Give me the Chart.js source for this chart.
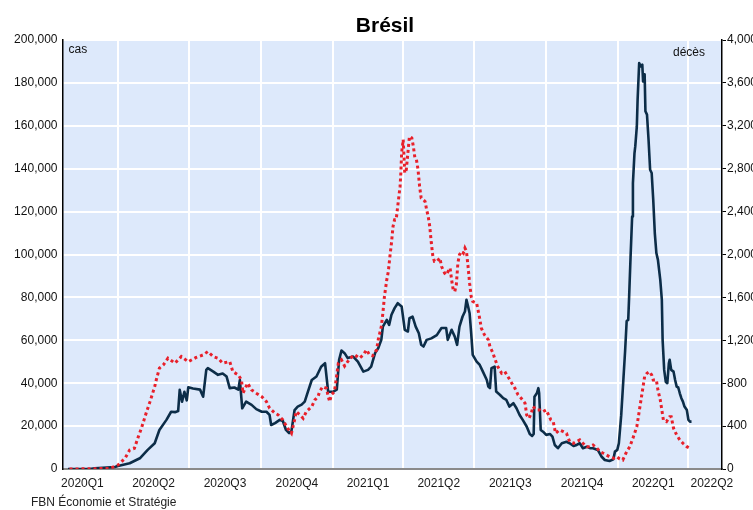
<!DOCTYPE html>
<html>
<head>
<meta charset="utf-8">
<script src="https://cdn.jsdelivr.net/npm/chart.js@4.4.1/dist/chart.umd.min.js"></script>
<style>
html,body{margin:0;padding:0;background:#ffffff;}
canvas{display:block;}
</style>
</head>
<body>
<canvas id="c" width="753" height="510"></canvas>
<script>
// ---------- text ----------
const chartTitle = 'Brésil';
const sourceText = 'FBN Économie et Stratégie';
const leftAxisTitle = 'cas';
const rightAxisTitle = 'décès';

// ---------- x axis (quarters) ----------
const quarterLabels = ['2020Q1','2020Q2','2020Q3','2020Q4','2021Q1','2021Q2','2021Q3','2021Q4','2022Q1','2022Q2'];
const quarterStarts = ['2020-01-01','2020-04-01','2020-07-01','2020-10-01','2021-01-01','2021-04-01','2021-07-01','2021-10-01','2022-01-01','2022-04-01','2022-07-01'];
const xStart = '2020-01-21';
const xEnd = '2022-05-14';

// ---------- y axes ----------
const casesMax = 200000, casesStep = 20000;
const deathsMax = 4000, deathsStep = 400;

// ---------- series: cas (7-day average of daily cases) ----------
const casesDates = [
'2020-01-28','2020-02-25','2020-03-02','2020-03-28','2020-04-01','2020-04-16','2020-04-29','2020-05-09','2020-05-18','2020-05-24',
'2020-06-02','2020-06-08','2020-06-13','2020-06-17','2020-06-19','2020-06-22','2020-06-25','2020-06-28','2020-06-30','2020-07-06',
'2020-07-15','2020-07-19','2020-07-23','2020-07-25','2020-08-01','2020-08-07','2020-08-13','2020-08-18','2020-08-22','2020-08-28',
'2020-09-02','2020-09-04','2020-09-07','2020-09-12','2020-09-19','2020-09-25','2020-10-02','2020-10-08','2020-10-12','2020-10-14',
'2020-10-19','2020-10-25','2020-10-29','2020-11-02','2020-11-06','2020-11-09','2020-11-13','2020-11-17','2020-11-22','2020-11-26',
'2020-11-30','2020-12-05','2020-12-11','2020-12-17','2020-12-22','2020-12-26','2021-01-01','2021-01-06','2021-01-09','2021-01-12',
'2021-01-16','2021-01-20','2021-01-27','2021-02-02','2021-02-09','2021-02-15','2021-02-19','2021-02-24','2021-02-28','2021-03-04',
'2021-03-06','2021-03-11','2021-03-14','2021-03-17','2021-03-21','2021-03-25','2021-03-30','2021-04-03','2021-04-07','2021-04-09',
'2021-04-13','2021-04-17','2021-04-21','2021-04-24','2021-04-27','2021-05-01','2021-05-07','2021-05-14','2021-05-20','2021-05-26',
'2021-05-28','2021-06-02','2021-06-06','2021-06-09','2021-06-12','2021-06-16','2021-06-19','2021-06-21','2021-06-23','2021-06-25',
'2021-06-27','2021-06-29','2021-07-04','2021-07-08','2021-07-12','2021-07-17','2021-07-19','2021-07-21','2021-07-23','2021-07-27',
'2021-07-29','2021-08-03','2021-08-07','2021-08-11','2021-08-15','2021-08-20','2021-08-24','2021-08-28','2021-09-01','2021-09-06',
'2021-09-10','2021-09-13','2021-09-15','2021-09-16','2021-09-19','2021-09-21','2021-09-22','2021-09-24','2021-09-27','2021-10-01',
'2021-10-06','2021-10-09','2021-10-12','2021-10-16','2021-10-21','2021-10-27','2021-10-31','2021-11-05','2021-11-09','2021-11-13',
'2021-11-17','2021-11-22','2021-11-26','2021-11-30','2021-12-06','2021-12-11','2021-12-15','2021-12-21','2021-12-26','2021-12-28',
'2021-12-31','2022-01-02','2022-01-05','2022-01-07','2022-01-10','2022-01-12','2022-01-14','2022-01-15','2022-01-17','2022-01-19',
'2022-01-20','2022-01-22','2022-01-23','2022-01-25','2022-01-26','2022-01-28','2022-01-30','2022-02-01','2022-02-02','2022-02-04',
'2022-02-05','2022-02-07','2022-02-09','2022-02-11','2022-02-13','2022-02-15','2022-02-17','2022-02-19','2022-02-21','2022-02-24',
'2022-02-26','2022-02-27','2022-03-01','2022-03-03','2022-03-05','2022-03-07','2022-03-08','2022-03-10','2022-03-13','2022-03-15',
'2022-03-17','2022-03-19','2022-03-21','2022-03-23','2022-03-25','2022-03-27','2022-03-30','2022-04-01','2022-04-03','2022-04-05'
];
const casesValues = [
0,0,300,900,1400,2700,5000,8900,12000,18200,
22900,26700,26500,27000,36900,31400,36000,32000,38100,37500,
37000,33700,46200,47000,45400,43900,44500,43100,37700,38000,
37000,41500,28300,31400,29900,27900,26700,26700,25200,20500,
21400,22900,22400,18200,16700,17800,27500,29100,30000,31400,
36000,41500,43100,47700,49300,36000,36000,37000,50900,55200,
54000,51700,52400,50100,45400,46200,47700,54000,56300,60200,
66400,69500,67200,71900,75000,77300,75800,64900,64100,70300,
71000,66400,63300,57900,57100,60200,60900,62400,65700,65700,
60200,64900,61700,57900,66400,71100,73400,78900,75800,72600,
63300,53200,50100,48500,45400,41500,38400,37700,47000,47700,
36100,34500,33000,32200,29100,30700,28300,25200,22900,19800,
16300,15400,16300,33700,35300,37700,35300,18200,17400,15900,
16300,15100,11200,9700,12000,12700,12000,10700,11200,12000,
9700,10400,9700,9700,8900,5700,4200,3700,4500,8100,
8900,12000,25000,37000,55000,69000,69500,78900,99100,117700,
133300,147300,150400,159700,172200,189300,187700,188500,180700,184000,
166800,165200,153500,139500,138000,125500,110000,100700,97500,88200,
78900,60200,46200,40700,40000,49300,50900,46200,45400,41500,
38400,38000,35300,33000,31400,29100,27500,22900,22100,22100
];

// ---------- series: décès (7-day average of daily deaths) ----------
const deathsDates = [
'2020-01-30','2020-03-21','2020-04-01','2020-04-10','2020-04-16','2020-04-22','2020-04-27','2020-05-01','2020-05-07','2020-05-12',
'2020-05-18','2020-05-20','2020-05-24','2020-05-29','2020-06-04','2020-06-13','2020-06-21','2020-06-30','2020-07-10','2020-07-19',
'2020-07-25','2020-08-01','2020-08-07','2020-08-13','2020-08-22','2020-08-26','2020-09-02','2020-09-06','2020-09-08','2020-09-14',
'2020-09-19','2020-09-25','2020-10-02','2020-10-08','2020-10-12','2020-10-19','2020-10-23','2020-10-29','2020-11-04','2020-11-09',
'2020-11-13','2020-11-15','2020-11-20','2020-11-24','2020-11-28','2020-12-05','2020-12-09','2020-12-13','2020-12-15','2020-12-19',
'2020-12-24','2020-12-26','2020-12-28','2020-12-30','2021-01-03','2021-01-06','2021-01-08','2021-01-12','2021-01-16','2021-01-23',
'2021-01-29','2021-02-04','2021-02-09','2021-02-13','2021-02-17','2021-02-21','2021-02-26','2021-02-28','2021-03-04','2021-03-06',
'2021-03-08','2021-03-11','2021-03-13','2021-03-15','2021-03-17','2021-03-19','2021-03-21','2021-03-23','2021-03-25','2021-03-28',
'2021-03-29','2021-03-30','2021-04-01','2021-04-03','2021-04-05','2021-04-07','2021-04-09','2021-04-12','2021-04-14','2021-04-16',
'2021-04-18','2021-04-20','2021-04-22','2021-04-24','2021-04-29','2021-05-01','2021-05-03','2021-05-05','2021-05-07','2021-05-09',
'2021-05-11','2021-05-14','2021-05-18','2021-05-20','2021-05-22','2021-05-24','2021-05-26','2021-05-31','2021-06-02','2021-06-04',
'2021-06-06','2021-06-08','2021-06-10','2021-06-12','2021-06-15','2021-06-17','2021-06-19','2021-06-21','2021-06-23','2021-06-25',
'2021-06-27','2021-06-29','2021-07-04','2021-07-08','2021-07-10','2021-07-14','2021-07-19','2021-07-21','2021-07-25','2021-07-27',
'2021-07-31','2021-08-05','2021-08-09','2021-08-13','2021-08-18','2021-08-22','2021-08-26','2021-08-30','2021-09-04','2021-09-06',
'2021-09-09','2021-09-12','2021-09-14','2021-09-19','2021-09-23','2021-09-27','2021-10-01','2021-10-04','2021-10-07','2021-10-10',
'2021-10-13','2021-10-18','2021-10-23','2021-10-27','2021-10-31','2021-11-05','2021-11-09','2021-11-13','2021-11-17','2021-11-22',
'2021-11-26','2021-11-30','2021-12-05','2021-12-09','2021-12-13','2021-12-17','2021-12-21','2021-12-26','2021-12-30','2022-01-03',
'2022-01-07','2022-01-12','2022-01-16','2022-01-20','2022-01-25','2022-01-29','2022-01-31','2022-02-02','2022-02-04','2022-02-07',
'2022-02-10','2022-02-13','2022-02-15','2022-02-19','2022-02-21','2022-02-24','2022-02-26','2022-02-28','2022-03-04','2022-03-08',
'2022-03-10','2022-03-13','2022-03-17','2022-03-21','2022-03-25','2022-03-30','2022-04-03'
];
const deathsValues = [
0,5,37,100,177,193,300,380,520,628,
768,830,940,970,1033,987,1048,1000,1040,1064,
1095,1048,1033,987,1002,908,877,830,707,800,
737,707,675,628,567,520,505,457,380,333,
457,535,504,473,535,582,644,675,722,768,
753,675,628,690,722,877,987,1018,960,1033,
1064,1033,1064,1111,1064,1055,1111,1204,1328,1453,
1608,1764,1842,1982,2107,2262,2324,2324,2449,2635,
2760,2947,3071,2760,2791,2947,3102,3087,3009,2900,
2884,2791,2635,2527,2495,2418,2355,2262,2107,1982,
1935,1935,1967,1889,1858,1827,1811,1873,1764,1671,
1655,1718,1920,1998,2029,2013,2060,2029,1889,1733,
1608,1562,1547,1400,1313,1251,1204,1142,1080,1033,
955,893,908,862,800,753,691,660,613,504,
473,520,582,551,551,535,551,504,457,442,
333,364,348,333,255,240,255,271,240,208,
208,224,193,162,147,131,115,100,115,95,
84,162,208,287,395,582,675,768,862,893,
908,877,830,830,737,644,551,457,442,488,
488,380,317,271,240,208,193
];

// ---------- build ----------
const FONT = "'Liberation Sans', Arial, Helvetica, sans-serif";
const DAY = 86400000;
const ORIGIN = Date.parse('2020-01-01');
const toDay = s => (Date.parse(s) - ORIGIN) / DAY;
const xMin = toDay(xStart), xMax = toDay(xEnd);

const boundaryValues = quarterStarts.map(toDay).filter(v => v > xMin && v < xMax);
const boundarySet = new Set(boundaryValues);
const labelAt = new Map();
for (let i = 0; i < quarterLabels.length; i++) {
  let mid = (toDay(quarterStarts[i]) + toDay(quarterStarts[i + 1])) / 2;
  mid = Math.min(mid, xMax - 13); // keep last label inside the frame
  labelAt.set(mid, quarterLabels[i]);
}
const xTickValues = [...boundaryValues, ...labelAt.keys()].sort((a, b) => a - b);

const casesData = casesDates.map((d, i) => ({ x: toDay(d), y: casesValues[i] }));
const deathsData = deathsDates.map((d, i) => ({ x: toDay(d), y: deathsValues[i] }));
const fmt = v => Number(v).toLocaleString('en-US');

const decor = {
  id: 'decor',
  beforeDraw(chart) {
    const { ctx, chartArea: a } = chart;
    ctx.save();
    ctx.fillStyle = '#dde9fb';
    ctx.fillRect(a.left, a.top, a.right - a.left, a.bottom - a.top);
    ctx.restore();
  },
  afterDraw(chart) {
    const { ctx, chartArea: a } = chart;
    ctx.save();
    ctx.fillStyle = '#000';
    ctx.textBaseline = 'alphabetic';
    ctx.font = "bold 21px " + FONT;
    ctx.textAlign = 'center';
    ctx.fillText(chartTitle, 385, 32);
    ctx.font = "12px " + FONT;
    ctx.fillStyle = '#111';
    ctx.textAlign = 'left';
    ctx.fillText(leftAxisTitle, a.left + 6, a.top + 13);
    ctx.textAlign = 'right';
    ctx.fillText(rightAxisTitle, a.right - 17, a.top + 16);
    ctx.textAlign = 'left';
    ctx.fillStyle = '#222';
    ctx.fillText(sourceText, 31, 506);
    ctx.restore();
  }
};

new Chart(document.getElementById('c'), {
  type: 'line',
  data: {
    datasets: [
      {
        label: 'décès',
        data: deathsData,
        yAxisID: 'y2',
        borderColor: '#e8202a',
        borderWidth: 3,
        borderDash: [3, 3],
        borderCapStyle: 'butt',
        pointRadius: 0,
        tension: 0,
        fill: false
      },
      {
        label: 'cas',
        data: casesData,
        yAxisID: 'y',
        borderColor: '#0c2d48',
        borderWidth: 2.6,
        borderJoinStyle: 'round',
        pointRadius: 0,
        tension: 0,
        fill: false
      }
    ]
  },
  options: {
    responsive: false,
    animation: false,
    devicePixelRatio: 1,
    layout: { padding: { top: 40, left: 0, right: 0, bottom: 0 } },
    plugins: { legend: { display: false }, title: { display: false }, tooltip: { enabled: false } },
    scales: {
      x: {
        type: 'linear',
        min: xMin,
        max: xMax,
        afterBuildTicks(scale) { scale.ticks = xTickValues.map(v => ({ value: v })); },
        afterFit(scale) { scale.height = 41; },
        ticks: {
          autoSkip: false, maxRotation: 0, minRotation: 0, padding: 7,
          color: '#1a1a1a', font: { family: FONT, size: 12 },
          callback: v => labelAt.has(v) ? labelAt.get(v) : ''
        },
        grid: {
          drawTicks: false, lineWidth: 2,
          color: ctx => (ctx.tick && boundarySet.has(ctx.tick.value)) ? '#ffffff' : 'rgba(0,0,0,0)'
        },
        border: { display: true, color: '#8a8a8a', width: 2 }
      },
      y: {
        position: 'left',
        min: 0, max: casesMax,
        afterFit(scale) { scale.width = 62.5; },
        ticks: { stepSize: casesStep, padding: 5, color: '#111', font: { family: FONT, size: 12 }, callback: fmt },
        grid: {
          drawTicks: false, lineWidth: 2,
          color: ctx => (ctx.tick && ctx.tick.value === 0) ? 'rgba(0,0,0,0)' : '#ffffff'
        },
        border: { display: true, color: '#000', width: 1.5 }
      },
      y2: {
        position: 'right',
        min: 0, max: deathsMax,
        afterFit(scale) { scale.width = 31; },
        ticks: { stepSize: deathsStep, padding: 1, color: '#111', font: { family: FONT, size: 12 }, callback: fmt },
        grid: { drawOnChartArea: false, drawTicks: true, tickLength: 4, color: '#000', lineWidth: 1 },
        border: { display: true, color: '#000', width: 1.5 }
      }
    }
  },
  plugins: [decor]
});
</script>
</body>
</html>
